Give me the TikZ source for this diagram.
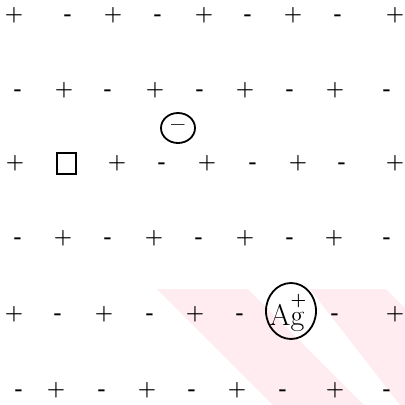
\documentclass[tikz,border=0pt]{standalone}
\usetikzlibrary{shapes.geometric}
\definecolor{pinkwash}{RGB}{254,236,240}
\newcommand\psgn{\textbf{+}}
\newcommand\msgn{\textbf{-}}
\begin{document}
\begin{tikzpicture}[x=1pt,y=-1pt,
  sign/.style={inner sep=0pt, anchor=base, font=\fontsize{21}{24}\selectfont},
  ring/.style={draw, ellipse, line width=1.8pt, inner sep=0pt},
]
\useasboundingbox (0,0) rectangle (405,405);
% faint pink diagonal bands
\fill[pinkwash] (157,289) -- (248,289) -- (364,405) -- (273,405) -- cycle;
\fill[pinkwash] (310,289) -- (386,289) -- (405,308) -- (405,405) -- (400,405) -- cycle;
% row 1
\foreach \x/\t [count=\i] in {14/\psgn,68/\msgn,113/\psgn,158/\msgn,204/\psgn,248/\msgn,293/\psgn,338/\msgn,395/\psgn}
  {\node[sign] (ra\i) at (\x,20) {\t};}
% row 2
\foreach \x/\t [count=\i] in {18/\msgn,64/\psgn,108/\msgn,155/\psgn,200/\msgn,245/\psgn,290/\msgn,335/\psgn,387/\msgn}
  {\node[sign] (rb\i) at (\x,95) {\t};}
% row 3
\foreach \x/\t [count=\i] in {15/\psgn,117/\psgn,162/\msgn,207/\psgn,253/\msgn,298/\psgn,342/\msgn,395/\psgn}
  {\node[sign] (rc\i) at (\x,168) {\t};}
\node[draw, line width=1.2pt, minimum width=19pt, minimum height=21pt, inner sep=0pt] (vacancy) at (66.5,163.5) {};
% row 4
\foreach \x/\t [count=\i] in {18/\msgn,63/\psgn,108/\msgn,154/\psgn,199/\msgn,245/\psgn,290/\msgn,334/\psgn,387/\msgn}
  {\node[sign] (rd\i) at (\x,243) {\t};}
% row 5
\foreach \x/\t [count=\i] in {14/\psgn,58/\msgn,104/\psgn,150/\msgn,195/\psgn,240/\msgn,335/\msgn,395/\psgn}
  {\node[sign] (re\i) at (\x,319) {\t};}
% row 6
\foreach \x/\t [count=\i] in {19/\msgn,56/\psgn,102/\msgn,147/\psgn,192/\msgn,237/\psgn,283/\msgn,335/\psgn,387/\msgn}
  {\node[sign] (rf\i) at (\x,395) {\t};}
% interstitial anion
\node[ring, minimum width=34pt, minimum height=30pt] (anionring) at (178,128) {};
\node[inner sep=0pt, font=\fontsize{24}{26}\selectfont\bfseries] (anion) at (178,128) {--};
% silver ion
\node[ring, minimum width=50pt, minimum height=56pt] (agring) at (291,311) {};
\node[inner sep=0pt, anchor=base, font=\fontsize{30}{32}\selectfont] (ag) at (288,325)
  {A\ooalign{g\cr\hfil\raisebox{0.64em}{\fontsize{18}{18}\selectfont\bfseries +}\cr}};
\end{tikzpicture}
\end{document}
